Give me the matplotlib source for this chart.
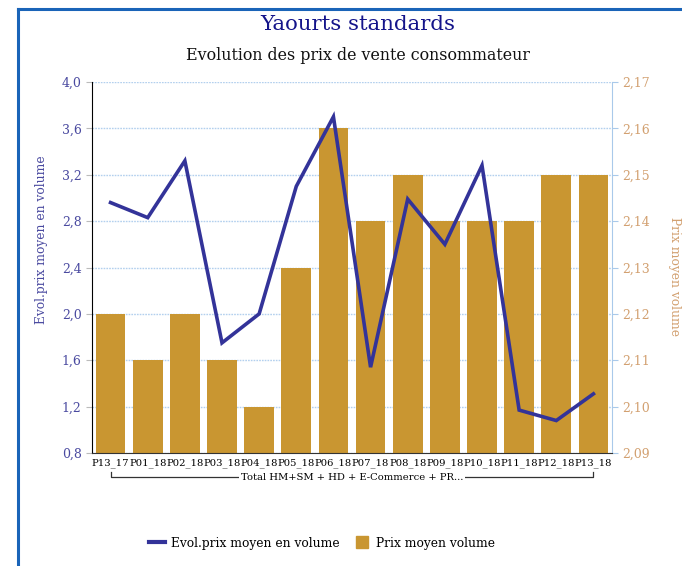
import matplotlib
matplotlib.use("Agg")
import matplotlib.pyplot as plt
from matplotlib.ticker import FuncFormatter, FixedLocator
from matplotlib.lines import Line2D
import matplotlib.transforms as mtransforms

categories = ["P13_17", "P01_18", "P02_18", "P03_18", "P04_18", "P05_18", "P06_18",
              "P07_18", "P08_18", "P09_18", "P10_18", "P11_18", "P12_18", "P13_18"]
prix_moyen = [2.12, 2.11, 2.12, 2.11, 2.10, 2.13, 2.16, 2.14, 2.15, 2.14, 2.14, 2.14, 2.15, 2.15]
evol_prix = [2.96, 2.83, 3.32, 1.75, 2.00, 3.10, 3.70, 1.54, 2.99, 2.60, 3.28, 1.17, 1.08, 1.31]
group_label = "Total HM+SM + HD + E-Commerce + PR..."
left_ticks = [0.8, 1.2, 1.6, 2.0, 2.4, 2.8, 3.2, 3.6, 4.0]
right_ticks = [2.09, 2.10, 2.11, 2.12, 2.13, 2.14, 2.15, 2.16, 2.17]

BAR = "#C99631"
LINE = "#333399"
LCOL = "#4a4aa0"
RCOL = "#D2A070"
SERIF = ["DejaVu Serif"]
plt.rcParams["font.family"] = SERIF

fig = plt.figure(figsize=(6.82, 5.66), dpi=100)
W, H = 682, 566

# figure border (blue, left + top)
fig.add_artist(Line2D([17.5 / W, 17.5 / W], [0, 1 - 8.5 / H], color="#1a64b8", lw=2.2, transform=fig.transFigure))
fig.add_artist(Line2D([17.5 / W, 1], [1 - 8.5 / H, 1 - 8.5 / H], color="#1a64b8", lw=2.2, transform=fig.transFigure))

ax = fig.add_axes([92 / W, 1 - 453 / H, 520 / W, 371 / H])
ax2 = ax.twinx()

x = list(range(len(categories)))
ax2.bar(x, prix_moyen, width=0.8, color=BAR, zorder=2)
ax2.set_ylim(right_ticks[0], right_ticks[-1])
ax2.yaxis.set_major_locator(FixedLocator(right_ticks))
ax2.yaxis.set_major_formatter(FuncFormatter(lambda v, p: f"{v:.2f}".replace(".", ",")))
ax2.grid(axis="y", color="#b3d0ee", linestyle=(0, (1.2, 0.8)), linewidth=1.0, zorder=0)
ax2.set_axisbelow(True)
ax2.tick_params(axis="y", colors="#a9c9ea", labelcolor=RCOL, length=4, labelsize=9, width=0.8)

ax.plot(x, evol_prix, color=LINE, lw=2.6, zorder=5, solid_joinstyle="miter")
ax.set_ylim(left_ticks[0], left_ticks[-1])
ax.yaxis.set_major_locator(FixedLocator(left_ticks))
ax.yaxis.set_major_formatter(FuncFormatter(lambda v, p: f"{v:.1f}".replace(".", ",")))
ax.set_zorder(ax2.get_zorder() + 1)
ax.patch.set_visible(False)
ax.set_xlim(-0.5, len(categories) - 0.5)
ax.set_xticks(x)
ax.set_xticklabels(categories, fontsize=7.2)
ax.tick_params(axis="x", length=0, pad=4)
ax.tick_params(axis="y", labelcolor=LCOL, labelsize=9, length=4, color="#bbbbbb", width=0.8)

for a in (ax, ax2):
    a.spines["top"].set_visible(False)
ax.spines["right"].set_visible(False)
ax2.spines["left"].set_visible(False)
ax2.spines["bottom"].set_visible(False)
ax2.spines["right"].set_color("#a9c9ea")
ax.spines["left"].set_color("#000000")
ax.spines["bottom"].set_color("#333333")

# group bracket
trans = mtransforms.blended_transform_factory(ax.transData, ax.transAxes)
yb = -(477 - 453) / 371
yt = -(472 - 453) / 371
ax.add_artist(Line2D([0, 0, 13, 13], [yt, yb, yb, yt], color="#333333", lw=0.9,
                     transform=trans, clip_on=False))
ax.text(6.5, yb, group_label, transform=trans, ha="center", va="center", fontsize=7.2,
        bbox=dict(facecolor="white", edgecolor="none", pad=1.5), clip_on=False)

# axis labels
fig.text(42 / W, 1 - 240 / H, "Evol.prix moyen en volume", rotation=90, ha="center", va="center",
         color=LCOL, fontsize=8.8)
fig.text(674 / W, 1 - 277 / H, "Prix moyen volume", rotation=-90, ha="center", va="center",
         color=RCOL, fontsize=8.8)

# titles
fig.text(358 / W, 1 - 25 / H, "Yaourts standards", ha="center", va="center", color="#14148a", fontsize=15.3)
fig.text(358 / W, 1 - 56 / H, "Evolution des prix de vente consommateur", ha="center", va="center",
         color="#111111", fontsize=11.4)

# legend
handles = [Line2D([0], [0], color=LINE, lw=3),
           Line2D([0], [0], color=BAR, marker="s", markersize=8, linestyle="none")]
fig.legend(handles, ["Evol.prix moyen en volume", "Prix moyen volume"], loc="center",
           bbox_to_anchor=(322 / W, 1 - 543 / H), ncol=2, frameon=False, fontsize=8.8,
           handlelength=1.3, handletextpad=0.5, columnspacing=1.2)

fig.savefig("out.png", dpi=100)
